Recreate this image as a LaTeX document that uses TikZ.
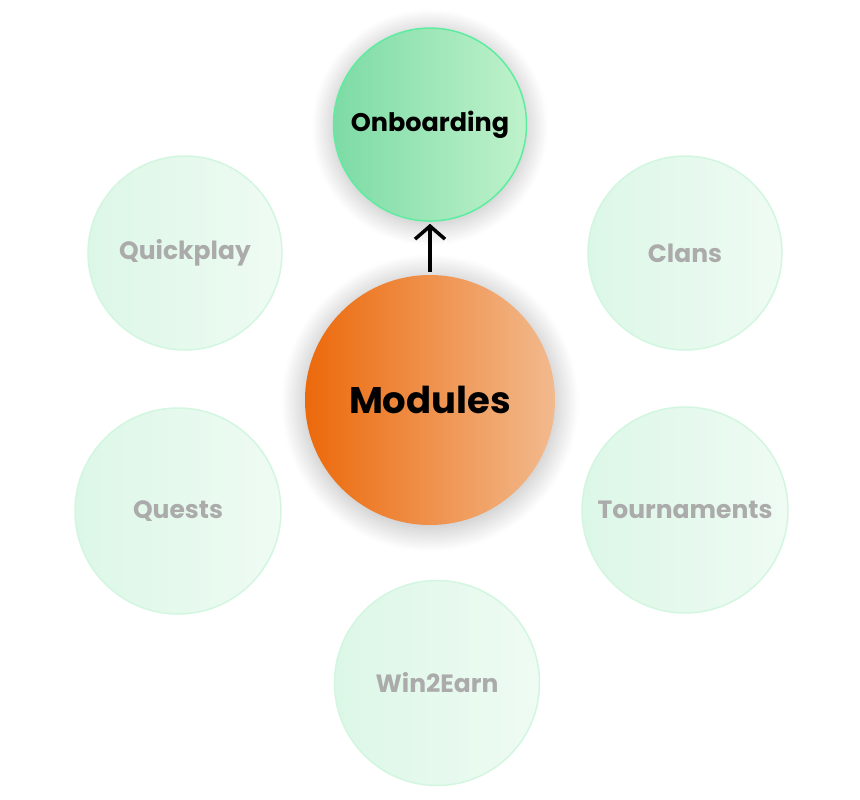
\documentclass[tikz,border=0pt]{standalone}
\usepackage{fontspec}
\setmainfont{Poppins}
\usepackage{tikz}
\usetikzlibrary{arrows.meta,positioning,shadows.blur}
\definecolor{mintdeep}{HTML}{7DDBA5}
\definecolor{mintlight}{HTML}{BFF2CB}
\definecolor{mintrim}{HTML}{5EEDA0}
\definecolor{fadeleft}{HTML}{DCF7E7}
\definecolor{faderight}{HTML}{EFFBF3}
\definecolor{faderim}{HTML}{D2F6E0}
\definecolor{orangedeep}{HTML}{EC690B}
\definecolor{orangelight}{HTML}{F2BA8E}
\definecolor{greytext}{HTML}{ABABAB}

\begin{document}
\begin{tikzpicture}[x=1pt,y=-1pt,
  every node/.style={font=\bfseries},
  core/.style={circle,minimum size=250pt,inner sep=0pt,left color=orangedeep,
               right color=orangelight,font=\fontsize{37}{44}\selectfont\bfseries,
               blur shadow={shadow xshift=0pt,shadow yshift=-3pt,shadow blur radius=24pt,
               shadow blur steps=30,shadow opacity=30}},
  pick/.style={circle,minimum size=193pt,inner sep=0pt,draw=mintrim,line width=1.5pt,
               left color=mintdeep,right color=mintlight,font=\fontsize{25.5}{30}\selectfont\bfseries,
               blur shadow={shadow xshift=0pt,shadow yshift=-3pt,shadow blur radius=22pt,
               shadow blur steps=30,shadow opacity=28}},
  dim/.style={circle,inner sep=0pt,draw=faderim,line width=1.5pt,left color=fadeleft,
              right color=faderight,text=greytext,font=\fontsize{25}{30}\selectfont\bfseries},
  ar/.style={-{Straight Barb[length=13pt,width=30pt,line width=3.5pt]},line width=3.5pt,black}]

\useasboundingbox (0,0) rectangle (860,800);

\node[core] (mod) at (430,400) {Modules};
\node[pick,above=53pt of mod] (onb) {Onboarding};

\node[dim,minimum size=194pt] (quick) at (185,253) {Quickplay};
\node[dim,minimum size=194pt] (clans) at (685,253) {Clans};
\node[dim,minimum size=206pt] (quests) at (178,511) {Quests};
\node[dim,minimum size=206pt] (tourn) at (685,510) {Tournaments};
\node[dim,minimum size=205pt] (win) at (437,683) {Win2Earn};

\draw[ar,shorten <=3pt,shorten >=2pt] (mod)--(onb);
\end{tikzpicture}
\end{document}
